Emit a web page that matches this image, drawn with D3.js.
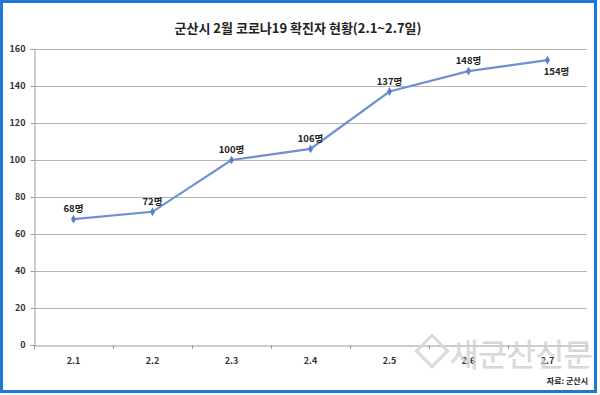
<!DOCTYPE html>
<html>
<head>
<meta charset="utf-8">
<script src="https://cdn.jsdelivr.net/npm/d3@7"></script>
<style>
    body { margin: 0; background: #fff; }
    svg text { font-family: "Noto Sans CJK KR", "Noto Sans", sans-serif; }
</style>
</head>
<body>
<svg id="chart" width="600" height="395"></svg>
<script>
// chart data
let days = ["2.1", "2.2", "2.3", "2.4", "2.5", "2.6", "2.7"];
let cases = [68, 72, 100, 106, 137, 148, 154];
let yTicks = [0, 20, 40, 60, 80, 100, 120, 140, 160];

let svg = d3.select("#chart");
let width = 600, height = 395;
let margin = { top: 49, right: 13, bottom: 50, left: 34 };

// outer blue frame
svg.append("rect")
    .attr("x", 1.5).attr("y", 1.5)
    .attr("width", width - 6).attr("height", height - 5)
    .attr("fill", "#fff")
    .attr("stroke", "#1f78d6")
    .attr("stroke-width", 3);

// title
svg.append("text")
    .attr("x", 298).attr("y", 33)
    .attr("text-anchor", "middle")
    .attr("font-size", 13)
    .attr("font-weight", 700)
    .attr("fill", "#222")
    .text("군산시 2월 코로나19 확진자 현황(2.1~2.7일)");

let x = d3.scaleBand()
    .domain(days)
    .range([margin.left, width - margin.right]);

let y = d3.scaleLinear()
    .domain([0, 160])
    .range([height - margin.bottom, margin.top]);

// gridlines
svg.append("g")
    .selectAll("line")
    .data(yTicks.filter(d => d > 0))
    .enter().append("line")
    .attr("x1", margin.left).attr("x2", width - margin.right)
    .attr("y1", d => Math.round(y(d)) + 0.5).attr("y2", d => Math.round(y(d)) + 0.5)
    .attr("stroke", "#b5b5b5")
    .attr("stroke-width", 1);

// y axis
let yAxis = svg.append("g")
    .attr("transform", `translate(${margin.left + 0.5},0)`)
    .call(d3.axisLeft(y).tickValues(yTicks).tickSize(4).tickPadding(5));
yAxis.selectAll("path, line").attr("stroke", "#9a9a9a");
yAxis.selectAll("text").attr("font-size", 9).attr("font-weight", 700).attr("fill", "#333")
    .attr("font-family", "'Noto Sans', sans-serif");

// x axis
let xAxis = svg.append("g")
    .attr("transform", `translate(0,${Math.round(y(0)) + 0.5})`)
    .call(d3.axisBottom(x).tickSize(0).tickPadding(12));
xAxis.select("path").attr("stroke", "#9a9a9a");
xAxis.selectAll("text").attr("font-size", 9).attr("font-weight", 700).attr("fill", "#333")
    .attr("font-family", "'Noto Sans', sans-serif");

// small tick marks on band edges
svg.append("g")
    .selectAll("line")
    .data(days.concat(["end"]))
    .enter().append("line")
    .attr("x1", (d, i) => Math.round(margin.left + i * x.bandwidth()) + 0.5)
    .attr("x2", (d, i) => Math.round(margin.left + i * x.bandwidth()) + 0.5)
    .attr("y1", y(0)).attr("y2", y(0) + 4)
    .attr("stroke", "#9a9a9a");

let cx = d => x(d) + x.bandwidth() / 2;

// line
let line = d3.line()
    .x((d, i) => cx(days[i]))
    .y(d => y(d));

svg.append("path")
    .datum(cases)
    .attr("d", line)
    .attr("fill", "none")
    .attr("stroke", "#6f8fd4")
    .attr("stroke-width", 2.2);

// diamond markers
svg.append("g")
    .selectAll("path")
    .data(cases)
    .enter().append("path")
    .attr("d", d3.symbol().type(d3.symbolDiamond).size(22))
    .attr("transform", (d, i) => `translate(${cx(days[i])},${y(d)})`)
    .attr("fill", "#5b7fcc");

// value labels
svg.append("g")
    .selectAll("text")
    .data(cases)
    .enter().append("text")
    .attr("x", (d, i) => i === cases.length - 1 ? cx(days[i]) + 9 : cx(days[i]))
    .attr("y", (d, i) => i === cases.length - 1 ? y(d) + 15 : y(d) - 7)
    .attr("text-anchor", "middle")
    .attr("font-size", 9.5)
    .attr("font-weight", 700)
    .attr("fill", "#222")
    .text(d => d + "명");

// watermark (drawn faint over the last two tick labels, as in the original)
let wm = svg.append("g").attr("opacity", 0.9);
wm.append("rect")
    .attr("x", 421).attr("y", 340).attr("width", 22).attr("height", 22)
    .attr("transform", "rotate(45 432 351)")
    .attr("fill", "none").attr("stroke", "#d6d6d6").attr("stroke-width", 3);
wm.append("text")
    .attr("x", 450).attr("y", 366)
    .attr("font-size", 31)
    .attr("font-weight", 300)
    .attr("fill", "none")
    .attr("stroke", "#d0d0d0")
    .attr("stroke-width", 1.2)
    .text("새군산신문");

// source
svg.append("text")
    .attr("x", 588).attr("y", 384)
    .attr("text-anchor", "end")
    .attr("font-size", 8)
    .attr("font-weight", 700)
    .attr("fill", "#222")
    .text("자료: 군산시");
</script>
</body>
</html>
